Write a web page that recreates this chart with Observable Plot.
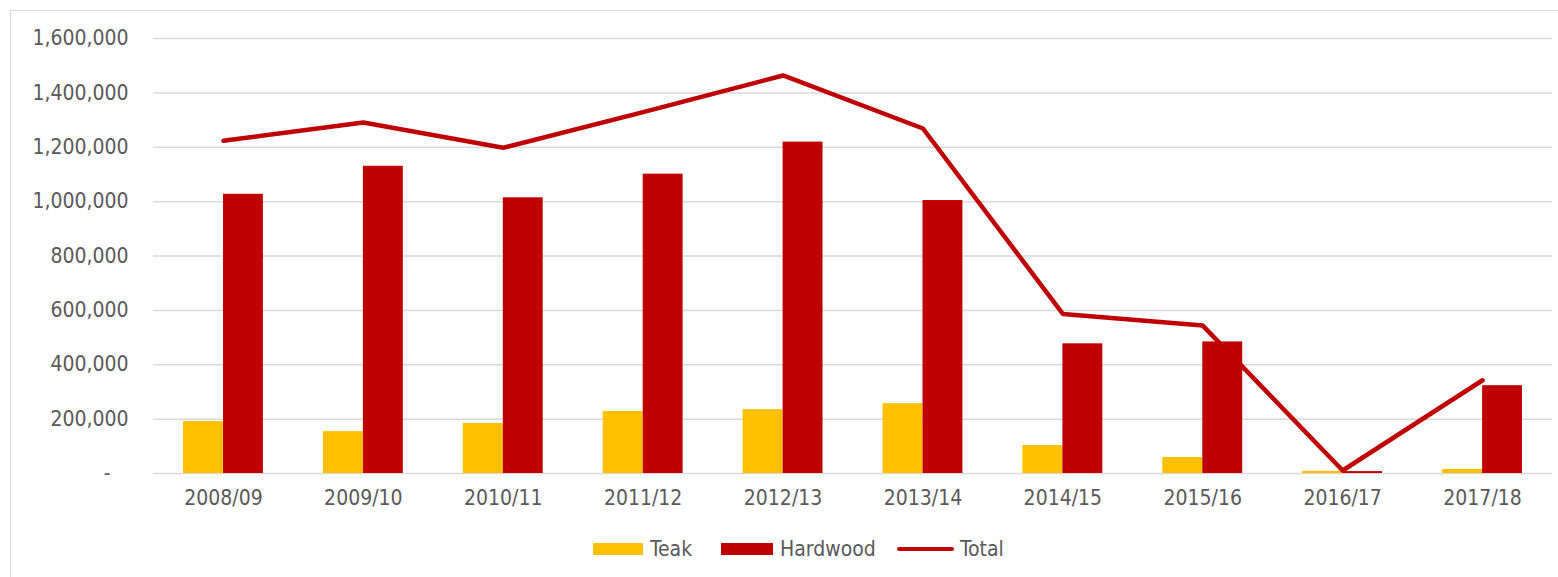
<!DOCTYPE html>
<html>
<head>
<meta charset="utf-8">
<script src="https://cdn.jsdelivr.net/npm/d3@7"></script>
<script src="https://cdn.jsdelivr.net/npm/@observablehq/plot@0.6"></script>
<style>
  html, body { margin: 0; padding: 0; background: #fff; }
  body { width: 1558px; height: 577px; overflow: hidden; position: relative;
         font-family: "DejaVu Sans Condensed", "DejaVu Sans", sans-serif; }
  #frame { position: absolute; left: 10px; top: 10px; width: 1600px; height: 620px;
           border: 1.5px solid #d9d9d9; pointer-events: none; }
  #chart { position: absolute; left: 0; top: 0; }
  #legend { position: absolute; left: 0; top: 536px; width: 1558px; height: 26px;
            font-size: 21px; color: #595959; }
  .item { position: absolute; top: 0; display: flex; align-items: center; height: 26px; }
  .sw { height: 12px; margin-right: 7px; }
  .ln { height: 4.5px; border-radius: 2.5px; margin-right: 6px; }
</style>
</head>
<body>
<div id="chart"></div>
<div id="legend"></div>
<div id="frame"></div>
<script>
const years = ["2008/09","2009/10","2010/11","2011/12","2012/13","2013/14","2014/15","2015/16","2016/17","2017/18"];
const teak = [191000, 154000, 184000, 228000, 235000, 257000, 103000, 59000, 8000, 15000];
const hardwood = [1027000, 1130000, 1014000, 1101000, 1219000, 1004000, 477000, 484000, 7000, 323000];
const total = [1224000, 1291000, 1198000, 1329000, 1464000, 1269000, 587000, 544000, 11000, 343000];
const yTicks = [0, 200000, 400000, 600000, 800000, 1000000, 1200000, 1400000, 1600000];
const seriesNames = ["Teak", "Hardwood", "Total"];
const colors = {Teak: "#ffc000", Hardwood: "#c00000", Total: "#c00000"};

const teakData = years.map((y, i) => ({year: y, value: teak[i]}));
const hardData = years.map((y, i) => ({year: y, value: hardwood[i]}));
const totalData = years.map((y, i) => ({year: y, value: total[i]}));

const fmt = d3.format(",");
const chart = Plot.plot({
  width: 1558,
  height: 530,
  marginLeft: 153,
  marginRight: 6,
  marginTop: 38,
  marginBottom: 57,
  style: {fontFamily: '"DejaVu Sans Condensed", "DejaVu Sans", sans-serif', fontSize: "21px", color: "#595959", background: "transparent"},
  x: {domain: years, padding: 0, round: false, label: null, tickSize: 0, tickPadding: 17},
  y: {domain: [0, 1600000], ticks: yTicks, label: null, tickSize: 0, tickPadding: 25,
      tickFormat: d => d === 0 ? "-\u00a0\u00a0\u00a0" : fmt(d)},
  marks: [
    Plot.ruleY(yTicks, {stroke: "#d9d9d9", strokeWidth: 1.5}),
    Plot.barY(teakData, {x: "year", y: "value", fill: colors.Teak, insetLeft: 30, insetRight: 70}),
    Plot.barY(hardData, {x: "year", y: "value", fill: colors.Hardwood, insetLeft: 70, insetRight: 30}),
    Plot.lineY(totalData, {x: "year", y: "value", stroke: colors.Total, strokeWidth: 4.5,
      strokeLinecap: "round", strokeLinejoin: "round"})
  ]
});
document.getElementById("chart").appendChild(chart);

const legend = document.getElementById("legend");
const legendLeft = {Teak: 593, Hardwood: 721, Total: 897};
const legendSw = {Teak: 50, Hardwood: 52, Total: 57};
seriesNames.forEach(name => {
  const item = document.createElement("div");
  item.className = "item";
  item.style.left = legendLeft[name] + "px";
  const sw = document.createElement("div");
  sw.className = name === "Total" ? "ln" : "sw";
  sw.style.width = legendSw[name] + "px";
  sw.style.background = colors[name];
  const t = document.createElement("span");
  t.textContent = name;
  item.appendChild(sw);
  item.appendChild(t);
  legend.appendChild(item);
});
</script>
</body>
</html>
